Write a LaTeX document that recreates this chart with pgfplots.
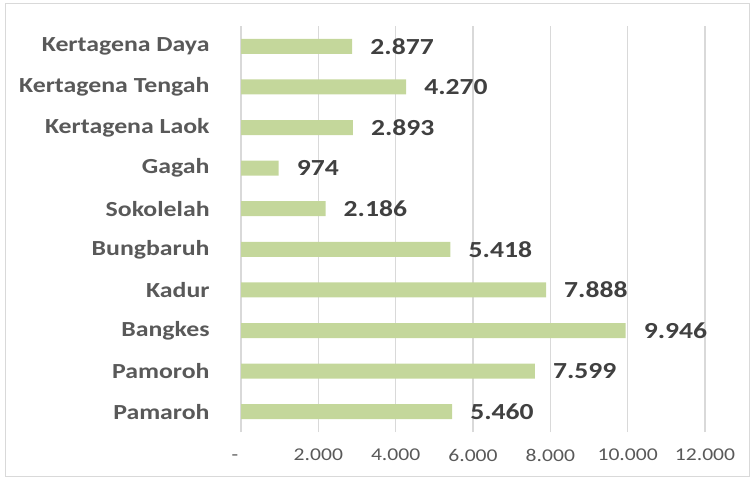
\documentclass[border=0pt]{standalone}
\usepackage{fontspec}
\setmainfont{Carlito}[FakeStretch=1.2]
\usepackage{pgfplots}
\pgfplotsset{compat=1.18}
\definecolor{barc}{HTML}{C4D79B}
\definecolor{lab}{HTML}{595959}
\definecolor{dlab}{HTML}{404040}
\definecolor{gridc}{HTML}{D9D9D9}
\begin{document}
\begin{tikzpicture}
\useasboundingbox (0,0) rectangle (755bp,478bp);
\draw[gridc, line width=1.2bp] (5.5bp,1.5bp) rectangle (749.5bp,474.5bp);
\begin{axis}[
  at={(241bp,46bp)}, anchor=south west, scale only axis,
  width=464bp, height=406bp,
  xbar, bar width=15bp,
  xmin=0, xmax=12000, ymin=-0.5, ymax=9.5,
  axis line style={draw=none}, tick style={draw=none},
  xmajorgrids, grid style={gridc, line width=1.5bp},
  xtick={0,2000,4000,6000,8000,10000,12000},
  xticklabels={{\hspace*{-12bp}\vphantom{0}-},2.000,4.000,6.000,8.000,10.000,12.000},
  xticklabel style={font=\fontsize{18bp}{22bp}\selectfont, text=lab, inner sep=0pt, anchor=north, yshift=-17bp},
  ytick={0,1,2,3,4,5,6,7,8,9},
  yticklabels={Pamaroh,Pamoroh,Bangkes,Kadur,Bungbaruh,Sokolelah,Gagah,Kertagena Laok,Kertagena Tengah,Kertagena Daya},
  yticklabel style={font=\fontsize{21.5bp}{25bp}\selectfont\bfseries, text=lab, inner sep=0pt, anchor=east, xshift=-27bp},
  point meta=x,
  nodes near coords={\pgfmathprintnumber[fixed,precision=0,1000 sep={.},assume math mode=true]{\pgfplotspointmeta}},
  every node near coord/.append style={font=\fontsize{23bp}{27bp}\selectfont\bfseries, text=dlab, inner sep=0pt, anchor=west, xshift=18bp},
]
\addplot[fill=barc, draw=none] coordinates {
  (5460,0) (7599,1) (9946,2) (7888,3) (5418,4) (2186,5) (974,6) (2893,7) (4270,8) (2877,9)
};
\end{axis}
\end{tikzpicture}
\end{document}
